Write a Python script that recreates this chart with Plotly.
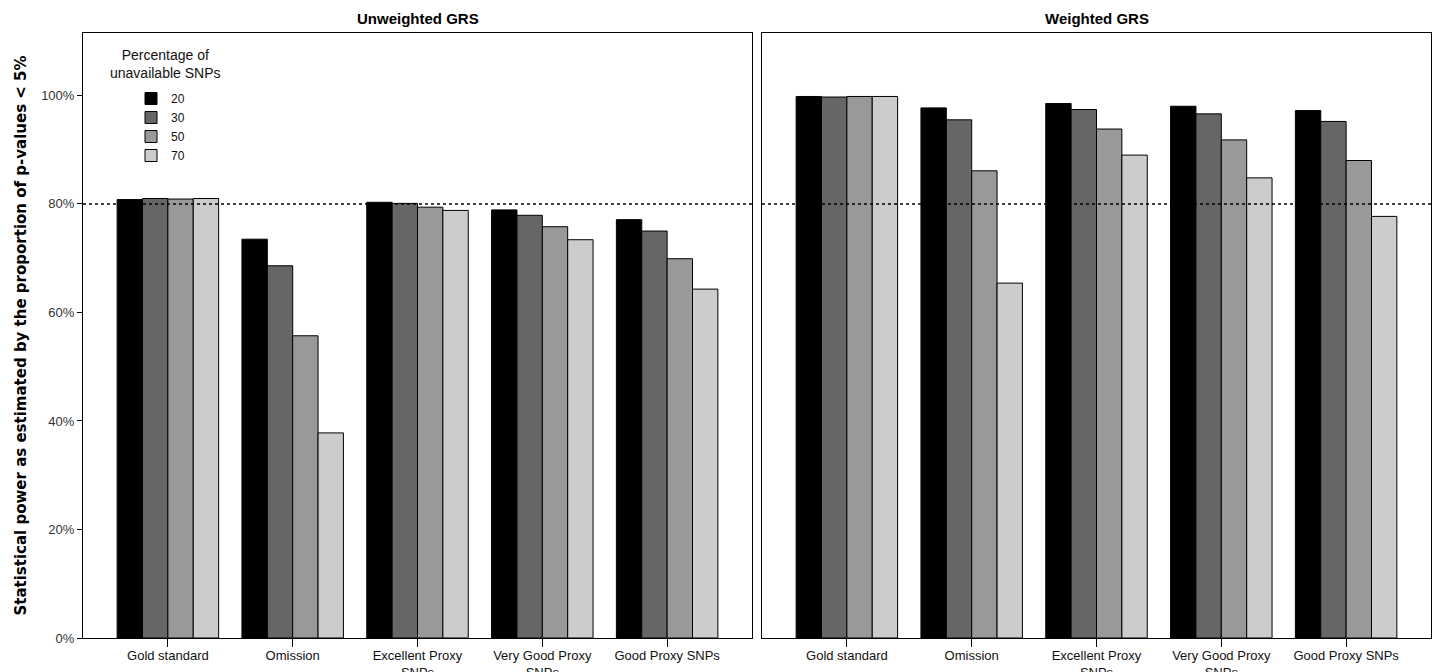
import plotly.graph_objects as go
from plotly.subplots import make_subplots

# Proxy strategies compared on the x axis
categories = ["Gold standard", "Omission", "Excellent Proxy<br>SNPs",
              "Very Good Proxy<br>SNPs", "Good Proxy SNPs"]

# Percentage of unavailable SNPs (one series per level)
levels = ["20", "30", "50", "70"]
colors = ["#000000", "#666666", "#999999", "#cccccc"]

# Statistical power (%) — unweighted genetic risk score
unweighted_20 = [80.8, 73.5, 80.3, 78.9, 77.1]
unweighted_30 = [81.0, 68.6, 80.1, 77.9, 75.0]
unweighted_50 = [80.9, 55.7, 79.4, 75.8, 69.9]
unweighted_70 = [81.0, 37.8, 78.8, 73.4, 64.3]

# Statistical power (%) — weighted genetic risk score
weighted_20 = [99.8, 97.7, 98.5, 98.0, 97.2]
weighted_30 = [99.7, 95.5, 97.4, 96.6, 95.2]
weighted_50 = [99.8, 86.1, 93.8, 91.8, 88.0]
weighted_70 = [99.8, 65.4, 89.0, 84.8, 77.7]

y_ticks = [0, 20, 40, 60, 80, 100]
y_tick_labels = ["0%", "20%", "40%", "60%", "80%", "100%"]
threshold = 80

unweighted = [unweighted_20, unweighted_30, unweighted_50, unweighted_70]
weighted = [weighted_20, weighted_30, weighted_50, weighted_70]

fig = make_subplots(rows=1, cols=2, shared_yaxes=False,
                    horizontal_spacing=10 / 1348,
                    subplot_titles=("Unweighted GRS", "Weighted GRS"))

for i, lvl in enumerate(levels):
    fig.add_trace(go.Bar(x=categories, y=unweighted[i], name=lvl,
                         marker=dict(color=colors[i], line=dict(color="#000", width=1)),
                         legendgroup=lvl, showlegend=True), row=1, col=1)
    fig.add_trace(go.Bar(x=categories, y=weighted[i], name=lvl,
                         marker=dict(color=colors[i], line=dict(color="#000", width=1)),
                         legendgroup=lvl, showlegend=False), row=1, col=2)

fig.add_hline(y=threshold, line=dict(color="#000", width=1.5, dash="dot"),
              row="all", col="all")

axis_common = dict(showline=True, linecolor="#000", linewidth=1, mirror=True,
                   showgrid=False, zeroline=False)

for c in (1, 2):
    fig.update_xaxes(**axis_common, range=[-0.68, 4.68], ticks="outside",
                     ticklen=8, tickcolor="#000", automargin=False,
                     ticklabelstandoff=-3,
                     tickfont=dict(family="Liberation Sans", size=13, color="#111"),
                     row=1, col=c)
fig.update_yaxes(**axis_common, range=[0, 111.5], tickmode="array",
                 tickvals=y_ticks, ticktext=y_tick_labels,
                 ticks="outside", ticklen=5, tickcolor="#000", automargin=False,
                 tickfont=dict(family="Liberation Sans", size=13, color="#333"),
                 title=dict(text="<b>Statistical power as estimated by the proportion of p-values < 5%</b>",
                            font=dict(family="DejaVu Sans", size=15, color="#000"),
                            standoff=10),
                 row=1, col=1)
fig.update_yaxes(**axis_common, range=[0, 111.5], tickvals=y_ticks,
                 showticklabels=False, ticks="", row=1, col=2)

for ann in fig.layout.annotations:
    ann.font = dict(family="Liberation Sans", size=15, color="#000")
    ann.text = "<b>" + ann.text + "</b>"
    ann.y = 1.0
    ann.yshift = 4

fig.add_annotation(text="Percentage of<br>unavailable SNPs", xref="paper", yref="paper",
                   x=(165 - 83) / 1348, y=1 - (45 - 33) / 605, xanchor="center",
                   yanchor="top", showarrow=False, align="center",
                   font=dict(family="Liberation Sans", size=14, color="#111"))

fig.update_layout(
    width=1434, height=672,
    margin=dict(l=83, r=3, t=33, b=34),
    paper_bgcolor="white", plot_bgcolor="white",
    barmode="group", bargap=0.187, bargroupgap=0,
    legend=dict(x=(131 - 83) / 1348, y=1 - (84 - 33) / 605, xanchor="left", yanchor="top",
                bgcolor="rgba(0,0,0,0)", tracegroupgap=0, itemwidth=30,
                font=dict(family="Liberation Sans", size=12, color="#111")),
    font=dict(family="Liberation Sans"),
)

fig.write_html("out.html")
